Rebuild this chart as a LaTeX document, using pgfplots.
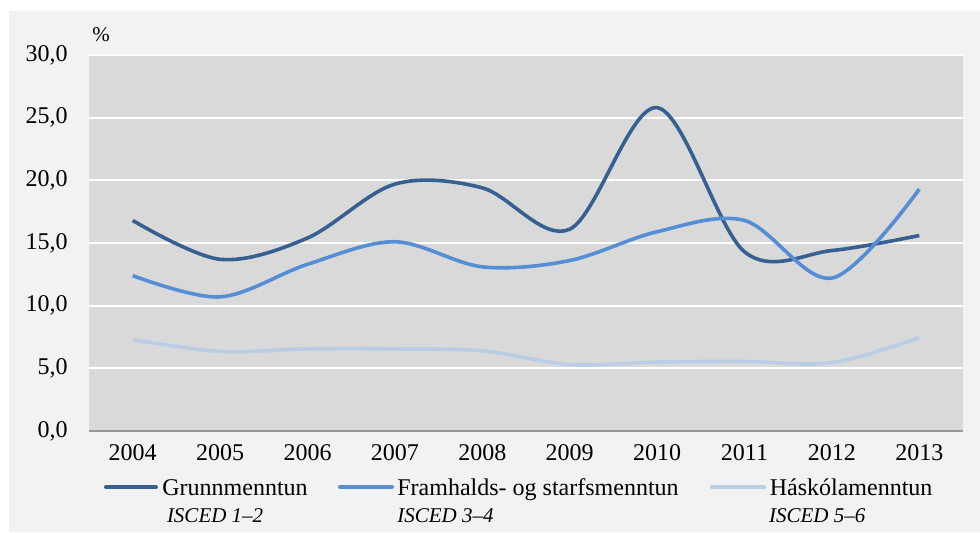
\documentclass[border=0pt]{standalone}
\usepackage{fontspec}
\setmainfont{Liberation Serif}
\usepackage{pgfplots}
\pgfplotsset{compat=1.18}
\definecolor{panelgray}{HTML}{F2F2F2}
\definecolor{plotgray}{HTML}{D9D9D9}
\definecolor{grunn}{HTML}{376092}
\definecolor{framh}{HTML}{558ED5}
\definecolor{hasko}{HTML}{B9CDE5}

\begin{document}
\begin{tikzpicture}
\path[use as bounding box] (0,0) rectangle (490pt,266pt);
\fill[white] (0,0) rectangle (490pt,266pt);
\fill[panelgray] (4.5pt,0) rectangle (490pt,260.5pt);

\begin{axis}[
    at={(44.5pt,50.5pt)}, anchor=south west,
    scale only axis,
    width=437pt, height=188pt,
    xmin=-0.5, xmax=9.5,
    ymin=0, ymax=30,
    xtick={0,...,9},
    xticklabels={2004,2005,2006,2007,2008,2009,2010,2011,2012,2013},
    ytick={0,5,...,30},
    axis background/.style={fill=plotgray},
    axis x line*=bottom,
    axis y line*=left,
    x axis line style={draw=gray!80, line width=0.6pt},
    y axis line style={draw=none},
    major tick length=0pt,
    ymajorgrids,
    grid style={white, line width=1pt},
    tick label style={font=\fontsize{12}{14}\selectfont},
    yticklabel style={anchor=east, inner sep=0pt, xshift=-10.5pt},
    xticklabel style={anchor=north, inner sep=0pt, yshift=-6.5pt},
    /pgf/number format/.cd, fixed, fixed zerofill, precision=1, use comma, assume math mode=true,
]
\addplot[grunn, line width=1.8pt, smooth, tension=0.55] coordinates {
    (0,16.8) (1,13.7) (2,15.4) (3,19.7) (4,19.4)
    (5,16.1) (6,25.8) (7,14.3) (8,14.4) (9,15.6)
};
\addplot[framh, line width=1.8pt, smooth, tension=0.55] coordinates {
    (0,12.4) (1,10.7) (2,13.3) (3,15.1) (4,13.1)
    (5,13.6) (6,15.9) (7,16.8) (8,12.2) (9,19.3)
};
\addplot[hasko, line width=1.8pt, smooth, tension=0.55] coordinates {
    (0,7.3) (1,6.35) (2,6.55) (3,6.55) (4,6.4)
    (5,5.3) (6,5.5) (7,5.55) (8,5.45) (9,7.45)
};
\end{axis}

\node[anchor=base west, inner sep=0pt, font=\fontsize{10.5}{12}\selectfont] at (46pt,245.2pt) {\%};

% legend
\begin{scope}[every node/.style={anchor=base west, inner sep=0pt}]
\draw[grunn, line width=2pt, line cap=round] (53pt,22.5pt) -- (78pt,22.5pt);
\node[font=\fontsize{12}{14}\selectfont] at (81pt,18.5pt) {Grunnmenntun};
\node[font=\fontsize{10.5}{12}\selectfont\itshape] at (83.3pt,4.65pt) {ISCED 1–2};
\draw[framh, line width=2pt, line cap=round] (170pt,22.5pt) -- (196pt,22.5pt);
\node[font=\fontsize{12}{14}\selectfont] at (198.5pt,18.5pt) {Framhalds- og starfsmenntun};
\node[font=\fontsize{10.5}{12}\selectfont\itshape] at (198.5pt,4.65pt) {ISCED 3–4};
\draw[hasko, line width=2pt, line cap=round] (356pt,22.5pt) -- (382pt,22.5pt);
\node[font=\fontsize{12}{14}\selectfont] at (384.7pt,18.5pt) {Háskólamenntun};
\node[font=\fontsize{10.5}{12}\selectfont\itshape] at (384.3pt,4.65pt) {ISCED 5–6};
\end{scope}
\end{tikzpicture}
\end{document}
